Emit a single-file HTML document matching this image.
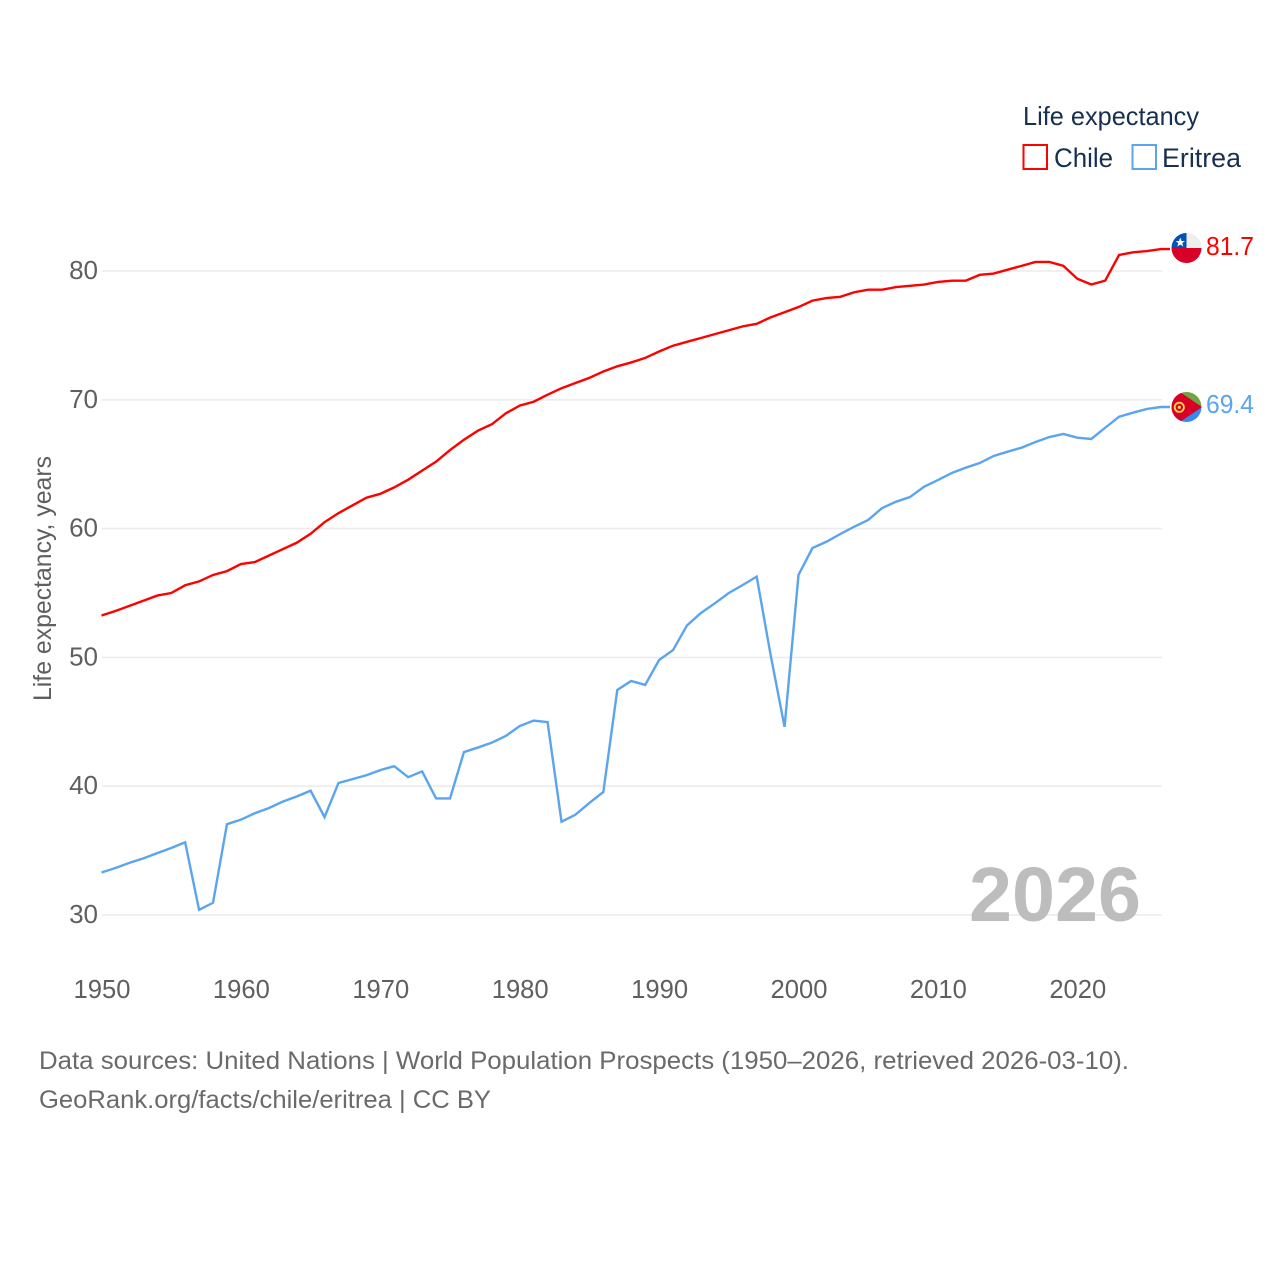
<!DOCTYPE html>
<html lang="en">
<head>
<meta charset="utf-8">
<title>Life expectancy: Chile and Eritrea</title>
<style>
html,body{margin:0;padding:0;background:#fff;width:1280px;height:1280px;overflow:hidden}
svg{display:block;font-family:"Liberation Sans",sans-serif}
</style>
</head>
<body>
<svg id="chart" xmlns="http://www.w3.org/2000/svg" width="1280" height="1280" viewBox="0 0 1280 1280">
  <rect width="1280" height="1280" fill="#fff"/>
  <g id="grid"></g>
  <g id="yticks"></g>
  <g id="xticks"></g>
  <text transform="translate(51,578.5) rotate(-90)" text-anchor="middle" font-size="25" fill="#5f5f5f" textLength="245" lengthAdjust="spacingAndGlyphs">Life expectancy, years</text>
  <text x="969" y="921" font-size="77" font-weight="bold" fill="#bdbdbd" textLength="172" lengthAdjust="spacingAndGlyphs">2026</text>
  <g id="series"></g>

  <g>
    <text x="1023" y="125" font-size="26" fill="#18304f" textLength="176" lengthAdjust="spacingAndGlyphs">Life expectancy</text>
    <rect x="1023.5" y="145" width="23.5" height="24" fill="none" stroke="#ff0000" stroke-width="2"/>
    <text x="1054" y="167" font-size="27" fill="#18304f" textLength="59" lengthAdjust="spacingAndGlyphs">Chile</text>
    <rect x="1132.5" y="145" width="23.5" height="24" fill="none" stroke="#5ba4ee" stroke-width="2"/>
    <text x="1162" y="167" font-size="27" fill="#18304f" textLength="79" lengthAdjust="spacingAndGlyphs">Eritrea</text>
  </g>

  <defs>
    <clipPath id="clip-chile"><circle cx="1186.5" cy="248" r="15"/></clipPath>
    <clipPath id="clip-eritrea"><circle cx="1186.5" cy="407" r="15"/></clipPath>
  </defs>
  <g clip-path="url(#clip-chile)">
    <rect x="1171" y="232" width="31" height="16" fill="#eeeeee"/>
    <rect x="1171" y="232" width="15.5" height="16" fill="#0052b4"/>
    <rect x="1171" y="248" width="31" height="16" fill="#d80027"/>
    <polygon points="1180.3,237.5 1181.6,241 1185,241 1182.3,243.1 1183.3,246.5 1180.3,244.5 1177.3,246.5 1178.3,243.1 1175.6,241 1179,241" fill="#fff"/>
  </g>
  <g clip-path="url(#clip-eritrea)">
    <rect x="1171" y="391" width="31" height="16" fill="#6da544"/>
    <rect x="1171" y="407" width="31" height="16" fill="#338af3"/>
    <polygon points="1171,386 1202,407 1171,428" fill="#d80027"/>
    <circle cx="1179.3" cy="407.3" r="4.6" fill="none" stroke="#ffda44" stroke-width="1.8"/>
    <circle cx="1179.3" cy="407.3" r="1.6" fill="#ffda44"/>
  </g>
  <text id="label-chile" x="1206" y="255" font-size="26" fill="#ff0000" textLength="48" lengthAdjust="spacingAndGlyphs"></text>
  <text id="label-eritrea" x="1206" y="413" font-size="26" fill="#5ba4ee" textLength="48" lengthAdjust="spacingAndGlyphs"></text>

  <text x="39" y="1069" font-size="25" fill="#6a6a6a" textLength="1090" lengthAdjust="spacingAndGlyphs">Data sources: United Nations | World Population Prospects (1950–2026, retrieved 2026-03-10).</text>
  <text x="39" y="1108" font-size="25" fill="#6a6a6a" textLength="452" lengthAdjust="spacingAndGlyphs">GeoRank.org/facts/chile/eritrea | CC BY</text>
</svg>
<script>
const firstYear = 1950;
const yTickLabels = [30, 40, 50, 60, 70, 80];
const xTickLabels = [1950, 1960, 1970, 1980, 1990, 2000, 2010, 2020];
const chileValues = [
  53.25,53.6,54.0,54.4,54.8,55.0,55.6,55.9,56.4,56.7,
  57.25,57.4,57.9,58.4,58.9,59.6,60.5,61.2,61.8,62.4,
  62.7,63.2,63.8,64.5,65.2,66.1,66.9,67.6,68.1,68.95,
  69.55,69.85,70.4,70.9,71.3,71.7,72.2,72.6,72.9,73.25,
  73.75,74.2,74.5,74.8,75.1,75.4,75.7,75.9,76.4,76.8,
  77.2,77.7,77.9,78.0,78.35,78.55,78.55,78.75,78.85,78.95,
  79.15,79.25,79.25,79.7,79.8,80.1,80.4,80.7,80.7,80.4,
  79.4,78.95,79.25,81.25,81.45,81.55,81.7
];
const eritreaValues = [
  33.3,33.65,34.05,34.4,34.8,35.2,35.65,30.4,30.95,37.05,
  37.4,37.9,38.3,38.8,39.2,39.65,37.6,40.25,40.55,40.85,
  41.25,41.55,40.7,41.15,39.05,39.05,42.65,43.0,43.38,43.9,
  44.67,45.09,44.98,37.24,37.79,38.7,39.55,47.47,48.17,47.86,
  49.8,50.57,52.48,53.45,54.2,55.0,55.62,56.27,50.19,44.6,
  56.4,58.49,58.98,59.58,60.15,60.67,61.6,62.09,62.45,63.25,
  63.77,64.32,64.73,65.09,65.64,65.97,66.28,66.72,67.11,67.35,
  67.06,66.96,67.83,68.69,69.0,69.29,69.44
];
const chileLabel = "81.7";
const eritreaLabel = "69.4";

const NS = "http://www.w3.org/2000/svg";
const xScale = year => 101.5 + (year - firstYear) * 13.94;
const yScale = value => 915 - (value - 30) * 12.88;

function make(tag, parentId, attrs) {
  const el = document.createElementNS(NS, tag);
  for (const k in attrs) el.setAttribute(k, attrs[k]);
  document.getElementById(parentId).appendChild(el);
  return el;
}

yTickLabels.forEach(v => {
  const line = make("line", "grid", {x1: 102, x2: 1162, y1: yScale(v), y2: yScale(v), stroke: "#ececec", "stroke-width": 1.6});
  
  
  const t = make("text", "yticks", {x: 98, y: yScale(v) + 8, "text-anchor": "end", "font-size": 26, fill: "#5f5f5f"});
  
  
  t.textContent = v;
});

xTickLabels.forEach(v => {
  const t = make("text", "xticks", {x: xScale(v) + 0.5, y: 998, "text-anchor": "middle", "font-size": 25.6, fill: "#5f5f5f"});
  
  
  t.textContent = v;
});

function drawSeries(values, color, name) {
  const pts = values.map((v, i) => xScale(firstYear + i).toFixed(2) + "," + yScale(v).toFixed(2));
  const lastY = yScale(values[values.length - 1]).toFixed(2);
  pts.push("1170," + lastY);
  const line = make("polyline", "series", {points: pts.join(" "), fill: "none", stroke: color, "stroke-width": 2.4, "stroke-linejoin": "miter"});
  
  
}
drawSeries(chileValues, "#ff0000", "line-chile");
drawSeries(eritreaValues, "#5ba4ee", "line-eritrea");

document.getElementById("label-chile").textContent = chileLabel;
document.getElementById("label-eritrea").textContent = eritreaLabel;
</script>
</body>
</html>
